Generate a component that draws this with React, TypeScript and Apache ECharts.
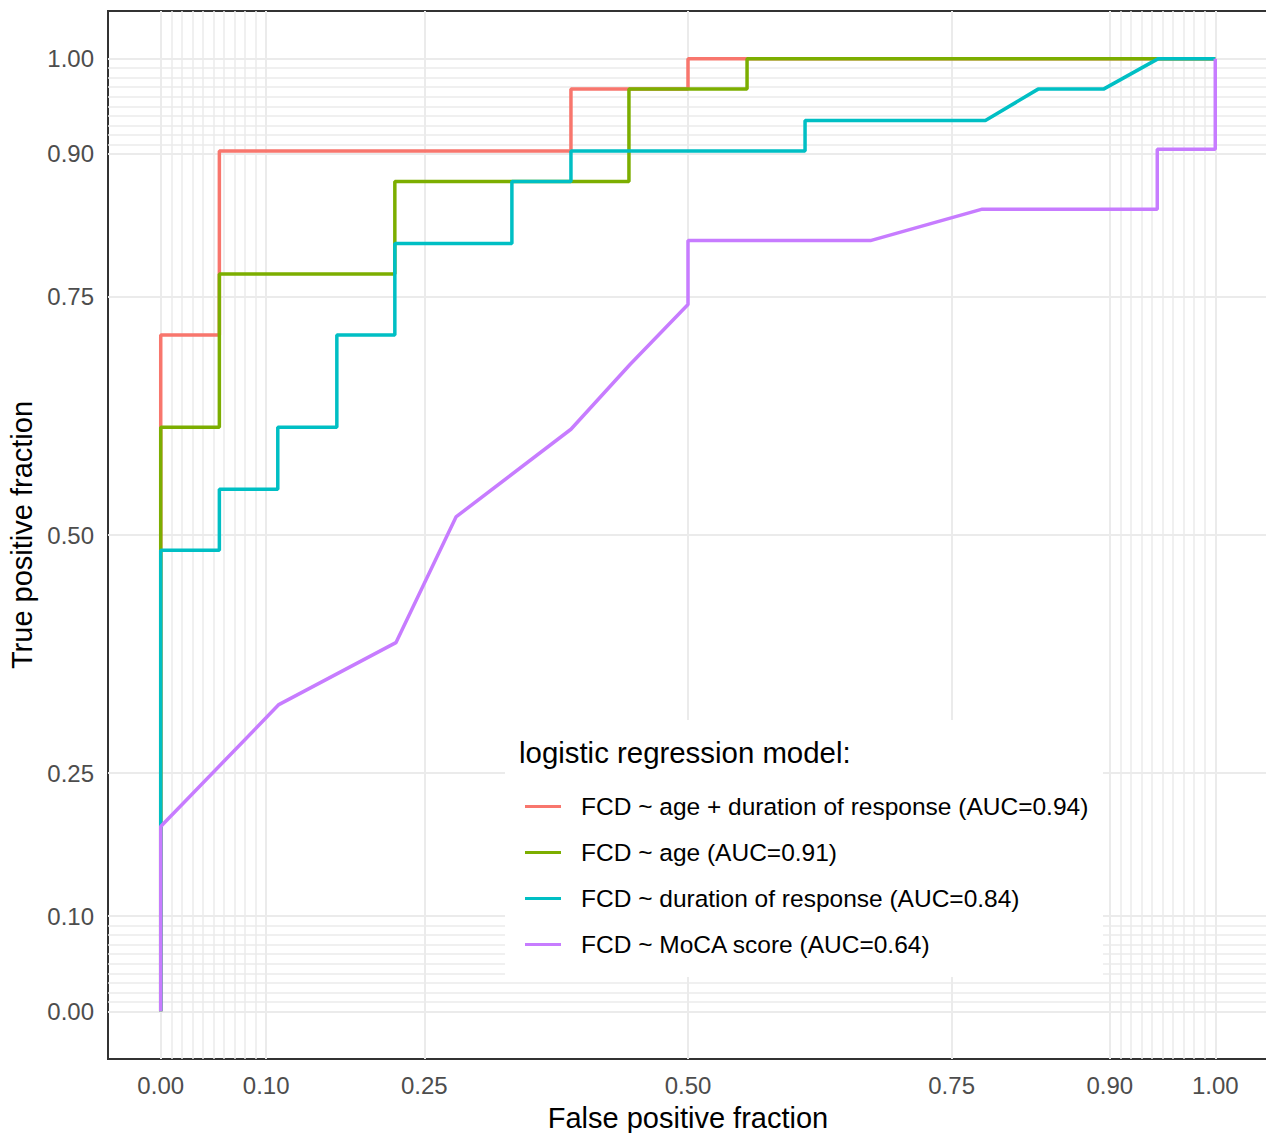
import React, { useEffect, useRef } from "react";
import * as echarts from "echarts";

const FONT = "Liberation Sans, Arial, sans-serif";

const seriesNames = [
  "FCD ~ age + duration of response (AUC=0.94)",
  "FCD ~ age (AUC=0.91)",
  "FCD ~ duration of response (AUC=0.84)",
  "FCD ~ MoCA score (AUC=0.64)",
];
const seriesColors = ["#F8766D", "#7CAE00", "#00BFC4", "#C77CFF"];

// False positive fraction / true positive fraction for each model (ROC vertices)
const fpfAgeDur = [0, 0, 0.0556, 0.0556, 0.389, 0.389, 0.5, 0.5, 1];
const tpfAgeDur = [0, 0.71, 0.71, 0.903, 0.903, 0.968, 0.968, 1, 1];

const fpfAge = [0, 0, 0.0556, 0.0556, 0.222, 0.222, 0.444, 0.444, 0.556, 0.556, 1];
const tpfAge = [0, 0.613, 0.613, 0.774, 0.774, 0.871, 0.871, 0.968, 0.968, 1, 1];

const fpfDur = [0, 0, 0.0556, 0.0556, 0.111, 0.111, 0.167, 0.167, 0.222, 0.222, 0.333, 0.333, 0.389, 0.389, 0.611, 0.611, 0.782, 0.832, 0.894, 0.946, 1];
const tpfDur = [0, 0.484, 0.484, 0.548, 0.548, 0.613, 0.613, 0.71, 0.71, 0.806, 0.806, 0.871, 0.871, 0.903, 0.903, 0.935, 0.935, 0.968, 0.968, 1, 1];

const fpfMoca = [0, 0, 0.112, 0.223, 0.28, 0.389, 0.445, 0.5, 0.5, 0.673, 0.779, 0.945, 0.945, 1, 1];
const tpfMoca = [0, 0.194, 0.322, 0.387, 0.519, 0.611, 0.679, 0.742, 0.809, 0.809, 0.842, 0.842, 0.905, 0.905, 1];

const majorBreaks = [0, 0.1, 0.25, 0.5, 0.75, 0.9, 1];
const minorBreaks = [0.01, 0.02, 0.03, 0.04, 0.05, 0.06, 0.07, 0.08, 0.09, 0.91, 0.92, 0.93, 0.94, 0.95, 0.96, 0.97, 0.98, 0.99];

const legendTitle = "logistic regression model:";
const xTitle = "False positive fraction";
const yTitle = "True positive fraction";

const rocX = [fpfAgeDur, fpfAge, fpfDur, fpfMoca];
const rocY = [tpfAgeDur, tpfAge, tpfDur, tpfMoca];

export default function App() {
  const ref = useRef<HTMLDivElement>(null);
  useEffect(() => {
    if (!ref.current) return;
    const chart = echarts.init(ref.current, null, { renderer: "svg" });

    const gridLineData = [
      ...minorBreaks.map((v) => ({ xAxis: v, lineStyle: { width: 1.5 } })),
      ...minorBreaks.map((v) => ({ yAxis: v, lineStyle: { width: 1.5 } })),
      ...majorBreaks.map((v) => ({ xAxis: v, lineStyle: { width: 2 } })),
      ...majorBreaks.map((v) => ({ yAxis: v, lineStyle: { width: 2 } })),
    ];

    const rocSeries = seriesNames.map((name, i) => ({
      name,
      type: "line",
      data: rocX[i].map((x, j) => [x, rocY[i][j]]),
      showSymbol: false,
      symbol: "none",
      z: 3 + i,
      lineStyle: { color: seriesColors[i], width: 3.5 },
      itemStyle: { color: seriesColors[i] },
    }));

    const axisCommon = {
      type: "value",
      min: -0.05,
      max: 1.05,
      splitLine: { show: false },
      axisLine: { show: true, lineStyle: { color: "#333333", width: 2 } },
      axisTick: {
        show: true,
        customValues: majorBreaks,
        length: 7,
        lineStyle: { color: "#333333", width: 2 },
      },
      axisLabel: {
        customValues: majorBreaks,
        formatter: (v: number) => v.toFixed(2),
        color: "#4D4D4D",
        fontSize: 24,
        fontFamily: FONT,
      },
      nameLocation: "middle",
      nameTextStyle: { color: "#000000", fontSize: 29, fontFamily: FONT },
    };

    chart.setOption({
      animation: false,
      backgroundColor: "#ffffff",
      grid: {
        left: 108,
        top: 11,
        width: 1160,
        height: 1048,
        show: true,
        borderColor: "#333333",
        borderWidth: 2,
        backgroundColor: "#ffffff",
        containLabel: false,
        outerBoundsMode: "none",
      },
      xAxis: {
        ...axisCommon,
        name: xTitle,
        nameGap: 44,
        axisLabel: { ...axisCommon.axisLabel, margin: 14 },
      },
      yAxis: {
        ...axisCommon,
        name: yTitle,
        nameGap: 66,
        axisLabel: { ...axisCommon.axisLabel, margin: 14 },
      },
      legend: {
        data: seriesNames,
        orient: "vertical",
        left: 525,
        top: 794,
        padding: 0,
        itemGap: 21,
        itemWidth: 36,
        itemHeight: 3,
        icon: "rect",
        z: 20,
        selectedMode: false,
        formatter: (name: string) => `{sp|}${name}`,
        textStyle: {
          color: "#000000",
          fontSize: 24.5,
          lineHeight: 24,
          fontFamily: FONT,
          rich: { sp: { width: 15 } },
        },
      },
      graphic: [
        {
          type: "rect",
          z: 10,
          shape: { x: 505, y: 720, width: 598, height: 257 },
          style: { fill: "#ffffff" },
        },
        {
          type: "text",
          z: 11,
          x: 519,
          y: 752,
          style: {
            text: legendTitle,
            fill: "#000000",
            fontSize: 29.4,
            fontFamily: FONT,
            verticalAlign: "middle",
          },
        },
      ],
      series: [
        {
          name: "gridlines",
          type: "line",
          data: [],
          z: 1,
          silent: true,
          markLine: {
            silent: true,
            z: 1,
            symbol: "none",
            label: { show: false },
            animation: false,
            lineStyle: { color: "#EBEBEB", type: "solid", width: 2 },
            emphasis: { disabled: true },
            data: gridLineData,
          },
        },
        ...rocSeries,
      ],
    });

    return () => chart.dispose();
  }, []);

  return (
    <div
      ref={ref}
      style={{ position: "absolute", left: 0, top: 0, width: 1266, height: 1133 }}
    />
  );
}
